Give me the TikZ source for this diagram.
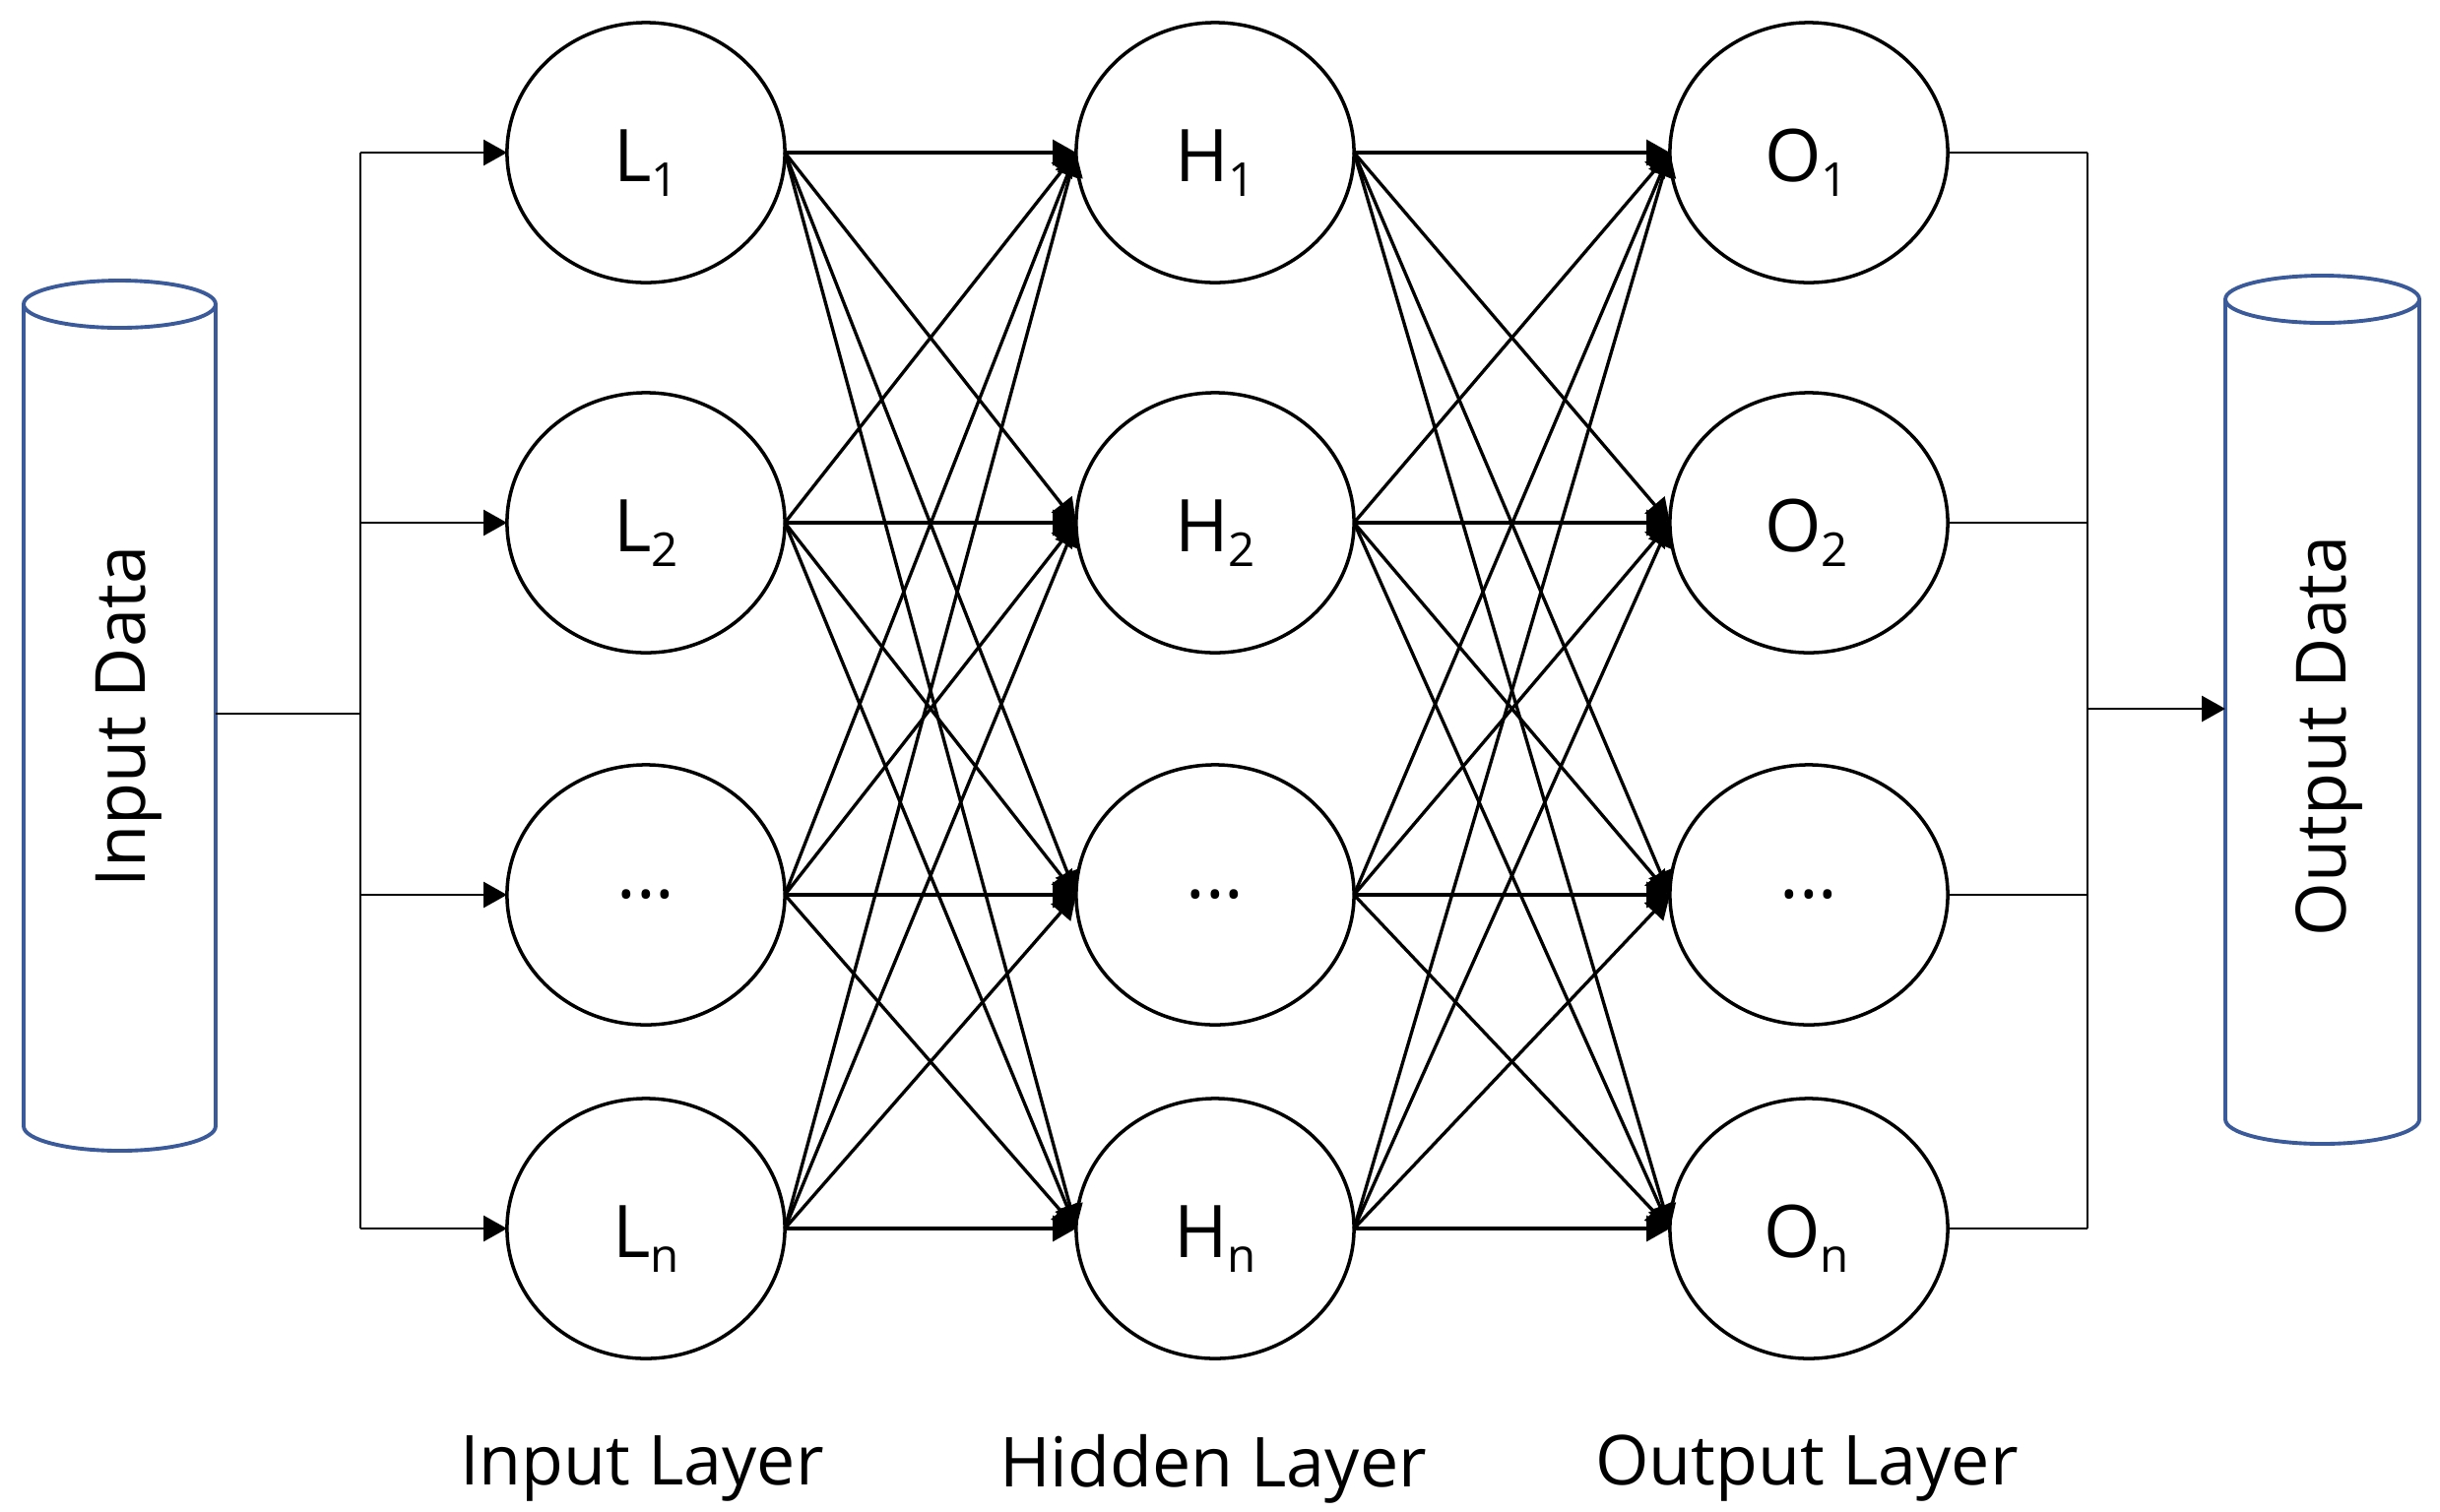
\documentclass[tikz,border=0pt]{standalone}
\usepackage{fontspec}
\setmainfont{Open Sans}
\usetikzlibrary{shapes.geometric,arrows.meta}
\definecolor{cylblue}{HTML}{3A5A9A}
\tikzset{
  neuron/.style={ellipse,draw=black,line width=1pt,fill=white,minimum width=2.82cm,minimum height=2.64cm,inner sep=0pt,outer sep=0pt,font=\fontsize{21}{24}\selectfont},
  named/.style={neuron,text height=17pt,text depth=0pt},
  cyl/.style={draw=cylblue,line width=1.1pt},
  anchorbox/.style={rectangle,inner sep=0pt,outer sep=0pt},
  link/.style={line width=0.95pt,-{Triangle[length=6.8pt,width=7.4pt]}},
  bus/.style={line width=0.8pt},
  busarrow/.style={line width=0.8pt,-{Triangle[length=6.8pt,width=7.4pt]}},
  caption/.style={font=\fontsize{19.9}{24}\selectfont,inner sep=0pt},
  vlabel/.style={font=\fontsize{20}{24}\selectfont,inner sep=0pt,rotate=90}
}
\newcommand{\subs}[1]{\raisebox{-0.2em}{\fontsize{13.5}{16}\selectfont #1}}
\begin{document}
\begin{tikzpicture}[x=0.01cm,y=-0.01cm]
\useasboundingbox (0,0) rectangle (2478,1535);
% cylinders
\draw[cyl] (24,309) -- (24,1144) arc[start angle=180,end angle=360,x radius=97.5,y radius=-25] -- (219,309);
\draw[cyl] (121.5,309) ellipse[x radius=97.5,y radius=-24];
\draw[cyl] (2260,304) -- (2260,1137) arc[start angle=180,end angle=360,x radius=98.5,y radius=-25] -- (2457,304);
\draw[cyl] (2358.5,304) ellipse[x radius=98.5,y radius=-24];
\node[anchorbox,minimum width=1.95cm,minimum height=8.85cm] (inputdata) at (121.5,725) {};
\node[anchorbox,minimum width=1.97cm,minimum height=8.84cm] (outputdata) at (2358.5,720) {};
\node[vlabel] (inlabel) at (131,728) {Input Data};
\node[vlabel] (outlabel) at (2365,748) {Output Data};
% neurons
\node[named] (L1) at (656,155) {L\subs{1}};
\node[named] (L2) at (656,531) {L\subs{2}};
\node[neuron] (L3) at (656,909) {...};
\node[named] (L4) at (656,1248) {L\subs{n}};
\node[named] (H1) at (1234,155) {H\subs{1}};
\node[named] (H2) at (1234,531) {H\subs{2}};
\node[neuron] (H3) at (1234,909) {...};
\node[named] (H4) at (1234,1248) {H\subs{n}};
\node[named] (O1) at (1837,155) {\hspace{-1.5pt}O\subs{1}};
\node[named] (O2) at (1837,531) {\hspace{-1.5pt}O\subs{2}};
\node[neuron] (O3) at (1837,909) {...};
\node[named] (O4) at (1837,1248) {\hspace{-1.5pt}O\subs{n}};
% full connections
\foreach \a in {1,2,3,4}{\foreach \b in {1,2,3,4}{
  \draw[link] (L\a.east) -- (H\b.west);
  \draw[link] (H\a.east) -- (O\b.west);
}}
% input bus
\coordinate (bi) at (366,725);
\draw[bus] (inputdata.east) -- (bi);
\draw[bus] (L1.west -| bi) -- (L4.west -| bi);
\foreach \a in {1,2,3,4}{\draw[busarrow] (L\a.west -| bi) -- (L\a.west);}
% output bus
\coordinate (bo) at (2120,720);
\draw[bus] (O1.east -| bo) -- (O4.east -| bo);
\foreach \a in {1,2,3,4}{\draw[bus] (O\a.east) -- (O\a.east -| bo);}
\draw[busarrow] (bo) -- (outputdata.west);
% captions
\node[caption] (c1) at (652,1492) {Input Layer};
\node[caption] (c2) at (1232,1492) {Hidden Layer};
\node[caption] (c3) at (1835,1492) {Output Layer};
\end{tikzpicture}
\end{document}
